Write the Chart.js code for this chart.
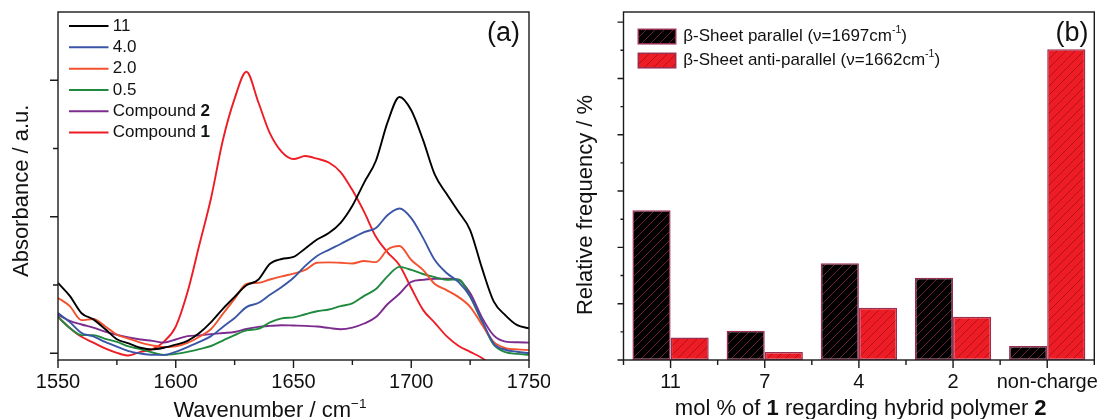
<!DOCTYPE html>
<html>
<head>
<meta charset="utf-8">
<script src="https://cdn.jsdelivr.net/npm/chart.js@4.4.4/dist/chart.umd.min.js"></script>
<style>
  html, body { margin: 0; padding: 0; background: #fff; }
  #wrap { position: relative; width: 1105px; height: 419px; overflow: hidden; }
  #panelA { position: absolute; left: 0; top: 0; }
  #panelB { position: absolute; left: 550px; top: 0; }
</style>
</head>
<body>
<div id="wrap">
  <canvas id="panelA" width="550" height="419"></canvas>
  <canvas id="panelB" width="555" height="419"></canvas>
</div>
<script>
const FONT = "'Liberation Sans', Arial, Helvetica, sans-serif";
Chart.defaults.font.family = FONT;
Chart.defaults.color = '#111';

// ---- panel (a): IR spectra, absorbance in arbitrary units ----
const wavenumbers = [1550, 1555, 1560, 1565, 1570, 1575, 1580, 1585, 1590, 1595,
  1600, 1605, 1610, 1615, 1620, 1625, 1630, 1635, 1640, 1645,
  1650, 1655, 1660, 1665, 1670, 1675, 1680, 1685, 1690, 1695,
  1700, 1705, 1710, 1715, 1720, 1725, 1730, 1735, 1740, 1745, 1750];

const abs11 = [20.6, 16.8, 11.7, 9.9, 7.1, 4.1, 2.9, 1.6, 1.1, 1.6,
  2.5, 3.6, 5.9, 9.1, 13.0, 16.5, 19.9, 21.5, 26.2, 27.6,
  28.2, 30.7, 33.3, 35.2, 38.2, 43.2, 50.0, 56.4, 67.8, 75.1,
  71.2, 62.5, 52.3, 46.7, 41.5, 36.1, 25.0, 15.2, 11.1, 8.2, 7.3];
const abs40 = [11.8, 9.1, 5.9, 4.9, 3.3, 1.9, 0.6, -0.1, -0.5, -0.5,
  0.4, 1.8, 3.3, 5.0, 7.7, 10.3, 13.5, 14.7, 17.1, 19.4,
  22.1, 25.6, 28.5, 30.3, 32.0, 33.8, 35.5, 36.7, 40.5, 42.4,
  39.6, 33.8, 27.3, 23.5, 20.9, 16.6, 9.6, 2.8, 1.0, 0.4, 0.0];
const abs20 = [16.2, 13.8, 9.7, 10.0, 7.9, 5.4, 4.3, 3.1, 2.3, 1.8,
  2.0, 3.0, 4.8, 7.1, 11.5, 15.9, 20.3, 20.6, 21.6, 22.5,
  23.3, 24.4, 26.5, 26.6, 26.5, 26.3, 27.0, 26.7, 30.4, 31.4,
  27.3, 24.4, 20.3, 18.5, 16.5, 13.6, 8.4, 3.3, 1.5, 1.1, 0.9];
const abs05 = [10.6, 7.4, 5.3, 5.3, 4.2, 3.3, 2.0, 1.2, 0.2, -0.5,
  -0.2, 0.4, 1.2, 2.1, 3.7, 5.3, 6.7, 7.1, 9.0, 10.2,
  10.5, 11.4, 12.3, 12.8, 13.8, 14.6, 16.8, 18.8, 22.6, 25.3,
  24.4, 23.2, 22.3, 21.5, 21.6, 16.6, 9.2, 2.5, 0.3, -0.2, -0.5];
const absCompound2 = [11.2, 9.5, 8.4, 7.5, 6.3, 5.4, 4.6, 4.0, 3.6, 3.1,
  4.0, 5.0, 5.2, 5.6, 5.9, 6.2, 7.1, 7.7, 8.0, 8.2,
  8.1, 8.0, 7.8, 7.4, 7.0, 7.5, 8.7, 10.6, 14.4, 17.4,
  20.9, 21.5, 21.8, 21.8, 21.5, 17.6, 10.5, 5.2, 3.4, 3.2, 3.1];
const absCompound1 = [10.6, 7.4, 4.8, 3.1, 1.4, 0.1, -0.7, 0.4, 1.1, 3.4,
  7.8, 17.9, 31.7, 45.5, 62.4, 74.6, 82.5, 73.7, 64.4, 59.0,
  56.9, 57.8, 57.0, 55.9, 53.1, 47.8, 41.4, 34.1, 29.5, 25.8,
  19.1, 12.7, 8.9, 5.0, 2.2, 0.4, -1.4, -4.0, null, null, null];

const spectraNames = ['11', '4.0', '2.0', '0.5', 'Compound 2', 'Compound 1'];
const spectraColors = ['#000000', '#3a55a6', '#f2522f', '#1f8a3e', '#7b2c8e', '#ee1c24'];
const spectra = [abs11, abs40, abs20, abs05, absCompound2, absCompound1];

const wnTicks = [1550, 1600, 1650, 1700, 1750];
const wnMinorTicks = [1575, 1625, 1675, 1725];
const absMajorTicks = [0, 40, 80];
const absMinorTicks = [20, 60];

// ---- panel (b): relative frequency of beta-sheet bands ----
const molLabels = ['11', '7', '4', '2', 'non-charge'];
const parallelFreq = [26.6, 5.2, 17.2, 14.6, 2.5];
const antiParallelFreq = [4.0, 1.4, 9.3, 7.7, 55.2];
const sheetNames = ['β-Sheet parallel', 'β-Sheet anti-parallel'];
const sheetBands = ['1697', '1662'];
const freqMajorTicks = [0, 10, 20, 30, 40, 50, 60];
const freqMinorTicks = [5, 15, 25, 35, 45, 55];

// text with bold / superscript pieces
function drawRich(ctx, parts, x, y, size, align) {
  ctx.textAlign = 'left';
  let total = 0;
  const runs = parts.map(p => {
    const s = p.sup ? size * 0.62 : size;
    const font = (p.bold ? 'bold ' : '') + s + 'px ' + FONT;
    ctx.font = font;
    const w = ctx.measureText(p.t).width;
    total += w;
    return { p, font, w };
  });
  let cx = align === 'center' ? x - total / 2 : x;
  runs.forEach(r => {
    ctx.font = r.font;
    ctx.fillText(r.p.t, cx, y - (r.p.sup ? size * 0.4 : 0));
    cx += r.w;
  });
}

function nameParts(name) {
  if (name.startsWith('Compound ')) {
    return [{ t: 'Compound ' }, { t: name.slice(9), bold: true }];
  }
  return [{ t: name }];
}

function hatch(bg, fg) {
  const c = document.createElement('canvas');
  c.width = 9; c.height = 9;
  const g = c.getContext('2d');
  g.fillStyle = bg;
  g.fillRect(0, 0, 9, 9);
  g.strokeStyle = fg;
  g.lineWidth = 1;
  g.beginPath();
  g.moveTo(-1, 10); g.lineTo(10, -1);
  g.moveTo(-1, 1); g.lineTo(1, -1);
  g.moveTo(8, 10); g.lineTo(10, 8);
  g.stroke();
  return g.createPattern(c, 'repeat');
}

// frame + tick marks (majors long, minors short), all outward
function axisFrame(xTicks, yTicks) {
  return {
    id: 'axisFrame',
    afterDatasetsDraw(chart) {
      const { ctx, chartArea: a, scales } = chart;
      ctx.save();
      ctx.strokeStyle = '#1a1a1a';
      ctx.lineWidth = 1.4;
      ctx.strokeRect(a.left, a.top, a.right - a.left, a.bottom - a.top);
      ctx.beginPath();
      xTicks.forEach(([vals, len]) => vals.forEach(v => {
        const px = scales.x.getPixelForValue(v);
        ctx.moveTo(px, a.bottom);
        ctx.lineTo(px, a.bottom + len);
      }));
      yTicks.forEach(([vals, len]) => vals.forEach(v => {
        const py = scales.y.getPixelForValue(v);
        ctx.moveTo(a.left, py);
        ctx.lineTo(a.left - len, py);
      }));
      ctx.stroke();
      ctx.restore();
    }
  };
}

const fixX = (s) => { s.height = 59; s.paddingLeft = 0; s.paddingRight = 0; };

// ---------- chart (a) ----------
const textA = {
  id: 'textA',
  afterDraw(chart) {
    const ctx = chart.ctx;
    ctx.save();
    ctx.fillStyle = '#111';
    // legend
    ctx.textBaseline = 'middle';
    spectraNames.forEach((name, i) => {
      const y = 26 + i * 21.32;
      ctx.strokeStyle = spectraColors[i];
      ctx.lineWidth = 2;
      ctx.beginPath();
      ctx.moveTo(69, y);
      ctx.lineTo(108.5, y);
      ctx.stroke();
      drawRich(ctx, nameParts(name), 112.7, y, 17, 'left');
    });
    // panel label
    ctx.textBaseline = 'alphabetic';
    drawRich(ctx, [{ t: '(a)' }], 503.5, 41, 27, 'center');
    // axis titles
    drawRich(ctx, [{ t: 'Wavenumber / cm' }, { t: '\u22121', sup: true }], 270, 416.5, 22, 'center');
    ctx.translate(28.3, 190.8);
    ctx.rotate(-Math.PI / 2);
    drawRich(ctx, [{ t: 'Absorbance / a.u.' }], 0, 0, 22, 'center');
    ctx.restore();
  }
};

new Chart(document.getElementById('panelA'), {
  type: 'line',
  data: {
    datasets: spectra.map((vals, i) => ({
      label: spectraNames[i],
      data: wavenumbers.map((w, j) => ({ x: w, y: vals[j] })),
      borderColor: spectraColors[i],
      backgroundColor: spectraColors[i],
      borderWidth: 1.9,
      pointRadius: 0,
      cubicInterpolationMode: 'monotone',
      spanGaps: false,
      fill: false
    }))
  },
  options: {
    responsive: false,
    animation: false,
    devicePixelRatio: 1,
    layout: { padding: { top: 12, right: 21, left: 0, bottom: 0 } },
    plugins: { legend: { display: false }, tooltip: { enabled: false } },
    scales: {
      x: {
        type: 'linear',
        min: 1550,
        max: 1750,
        afterBuildTicks: (s) => { s.ticks = wnTicks.map(v => ({ value: v })); },
        afterFit: fixX,
        grid: { display: false, drawTicks: false, tickLength: 0 },
        border: { display: false },
        ticks: {
          padding: 10,
          maxRotation: 0,
          autoSkip: false,
          font: { size: 20 },
          color: '#111',
          callback: (v) => String(v)
        }
      },
      y: {
        min: -2,
        max: 100,
        afterFit: (s) => { s.width = 58; s.paddingTop = 0; s.paddingBottom = 0; },
        grid: { display: false, drawTicks: false, tickLength: 0 },
        border: { display: false },
        ticks: { display: false }
      }
    }
  },
  plugins: [axisFrame([[wnTicks, 8], [wnMinorTicks, 5]], [[absMajorTicks, 8], [absMinorTicks, 5]]), textA]
});

// ---------- chart (b) ----------
const barFills = [hatch('#000000', '#6e2036'), hatch('#ee1c24', '#b3121b')];
const barBorder = '#9a2f52';

const textB = {
  id: 'textB',
  afterDraw(chart) {
    const ctx = chart.ctx;
    ctx.save();
    ctx.fillStyle = '#111';
    ctx.textBaseline = 'middle';
    sheetNames.forEach((name, i) => {
      const top = 29.3 + i * 24;
      ctx.fillStyle = barFills[i];
      ctx.fillRect(88.3, top, 37.4, 14.5);
      ctx.strokeStyle = barBorder;
      ctx.lineWidth = 1.5;
      ctx.strokeRect(88.3, top, 37.4, 14.5);
      ctx.fillStyle = '#111';
      drawRich(ctx, [
        { t: name + ' (\u03bd=' + sheetBands[i] + 'cm' },
        { t: '-1', sup: true },
        { t: ')' }
      ], 133.3, top + 7.3, 17, 'left');
    });
    ctx.textBaseline = 'alphabetic';
    drawRich(ctx, [{ t: '(b)' }], 522, 41, 27, 'center');
    drawRich(ctx, [
      { t: 'mol % of ' }, { t: '1', bold: true },
      { t: ' regarding hybrid polymer ' }, { t: '2', bold: true }
    ], 310.7, 415, 22, 'center');
    ctx.translate(42, 205);
    ctx.rotate(-Math.PI / 2);
    drawRich(ctx, [{ t: 'Relative frequency / %' }], 0, 0, 22, 'center');
    ctx.restore();
  }
};

const catCenters = molLabels.map((_, i) => i);
const catEdges = molLabels.map((_, i) => i - 0.5).concat([molLabels.length - 0.5]);

new Chart(document.getElementById('panelB'), {
  type: 'bar',
  data: {
    labels: molLabels,
    datasets: [
      {
        label: sheetNames[0] + ' (\u03bd=' + sheetBands[0] + ' cm\u207b\u00b9)',
        data: parallelFreq,
        backgroundColor: barFills[0],
        borderColor: barBorder,
        borderWidth: 1.5,
        borderSkipped: false
      },
      {
        label: sheetNames[1] + ' (\u03bd=' + sheetBands[1] + ' cm\u207b\u00b9)',
        data: antiParallelFreq,
        backgroundColor: barFills[1],
        borderColor: barBorder,
        borderWidth: 1.5,
        borderSkipped: false
      }
    ]
  },
  options: {
    responsive: false,
    animation: false,
    devicePixelRatio: 1,
    categoryPercentage: 0.81,
    barPercentage: 1.0,
    layout: { padding: { top: 12, right: 10.7, left: 0, bottom: 0 } },
    plugins: { legend: { display: false }, tooltip: { enabled: false } },
    scales: {
      x: {
        afterFit: fixX,
        grid: { display: false, drawTicks: false, tickLength: 0 },
        border: { display: false },
        ticks: { padding: 10, maxRotation: 0, autoSkip: false, font: { size: 20 }, color: '#111' }
      },
      y: {
        min: 0,
        max: 61.8,
        afterFit: (s) => { s.width = 73.5; s.paddingTop = 0; s.paddingBottom = 0; },
        grid: { display: false, drawTicks: false, tickLength: 0 },
        border: { display: false },
        ticks: { display: false }
      }
    }
  },
  plugins: [axisFrame([[catCenters, 8], [catEdges, 5]], [[freqMajorTicks, 6], [freqMinorTicks, 3]]), textB]
});
</script>
</body>
</html>
